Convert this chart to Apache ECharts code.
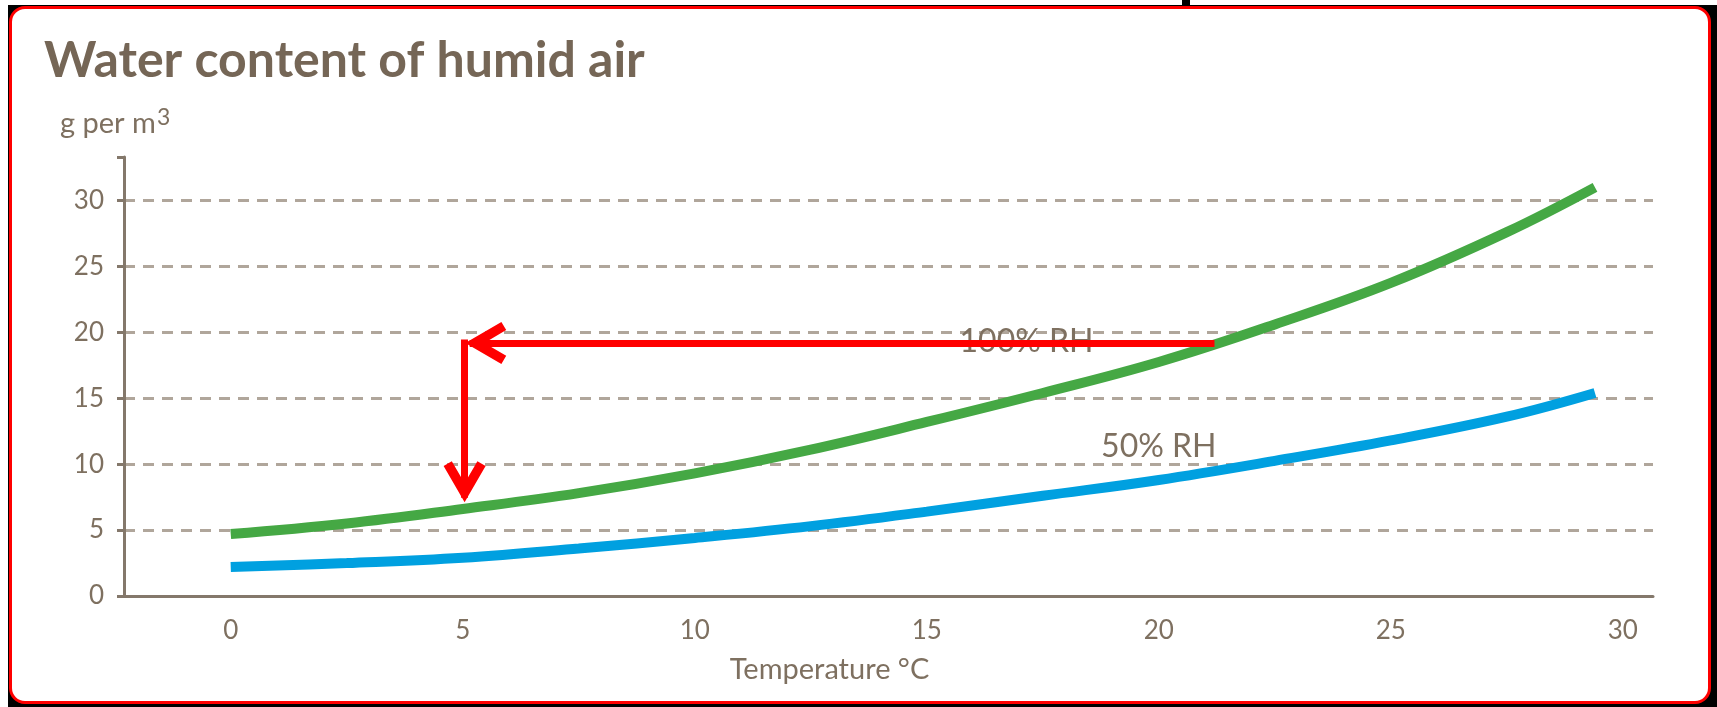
<!DOCTYPE html>
<html>
<head>
<meta charset="utf-8">
<script src="https://cdn.jsdelivr.net/npm/echarts@6/dist/echarts.min.js"></script>
<style>
  html, body { margin: 0; padding: 0; width: 1717px; height: 707px; background: #ffffff; overflow: hidden; }
  #back { position: absolute; left: 8px; top: 5px; right: 0; bottom: 0; background: #000; }
  #frame { position: absolute; left: 9px; top: 6px; width: 1696px; height: 692px; background: #fff;
           border: 3px solid #ff0000; border-radius: 16px; }
  #mark { position: absolute; left: 1182px; top: 0; width: 8px; height: 6px; background: #000; }
  #chart { position: absolute; left: 0; top: 0; width: 1717px; height: 707px; }
</style>
</head>
<body>
<div id="back"></div>
<div id="frame"></div>
<div id="mark"></div>
<div id="chart"></div>
<script>
// ---- data ----
const titleText = 'Water content of humid air';
const yNameMain = 'g per m';
const yNameSup = '3';
const xName = 'Temperature °C';
const xTicks = [0, 5, 10, 15, 20, 25, 30];
const yTicks = [0, 5, 10, 15, 20, 25, 30];
const temps = [0, 2.5, 5, 7.5, 10, 12.5, 15, 17.5, 20, 22.5, 25, 27.5, 29.4];
const rh100 = [4.7, 5.5, 6.6, 7.8, 9.3, 11.1, 13.2, 15.4, 17.75, 20.6, 23.75, 27.6, 31.0];
const rh50  = [2.2, 2.5, 2.9, 3.6, 4.4, 5.3, 6.4, 7.6, 8.8, 10.25, 11.8, 13.6, 15.4];
const curveNames = ['100% RH', '50% RH'];
const curveLabelPos = [[17.15, 19.3], [20.0, 11.3]];
const arrowH = [[21.2, 19.2], [5.15, 19.2]];
const arrowV = [[5.04, 19.45], [5.04, 7.45]];

// ---- styling ----
const brown = '#84786b';
const textCol = '#7e7060';
const font = 'Lato';
const chevron = 'path://M21,-32 L21.01,-32 L21,-31.99 Z M21,0 L42,36 L33.8,40.8 L21,19 L8.2,40.8 L0,36 Z';

const chart = echarts.init(document.getElementById('chart'), null, { renderer: 'canvas' });
const isTick = (v, arr) => arr.some(t => Math.abs(t - v) < 1e-6);

chart.setOption({
  animation: false,
  backgroundColor: 'transparent',
  title: [
    { text: titleText, left: 44, top: 36, padding: 0,
      textStyle: { fontFamily: font, fontWeight: 'bold', fontSize: 50, color: '#756656' } },
    { text: '{a|' + yNameMain + '}{s|' + yNameSup + '}', left: 60, top: 106, padding: 0,
      textStyle: { fontFamily: font, fontWeight: 'normal', fontSize: 29, color: textCol,
        rich: {
          a: { fontFamily: font, fontSize: 29, color: textCol },
          s: { fontFamily: font, fontSize: 23, color: textCol, padding: [0, 0, 12, 1] }
        } } }
  ],
  grid: { left: 124, right: 64, top: 157, bottom: 111, containLabel: false },
  xAxis: {
    type: 'value', min: -2.3, max: 30.65, splitNumber: 6,
    name: xName, nameLocation: 'middle', nameGap: 59,
    nameTextStyle: { fontFamily: font, fontSize: 29, color: textCol, padding: [0, 118, 0, 0] },
    axisLine: { show: true, onZero: false, lineStyle: { color: brown, width: 3 } },
    axisTick: { show: false },
    splitLine: { show: false },
    axisLabel: {
      customValues: xTicks,
      margin: 22, fontFamily: font, fontSize: 26, color: textCol,
      formatter: v => isTick(v, xTicks) ? String(Math.round(v)) : ''
    }
  },
  yAxis: {
    type: 'value', min: 0, max: 33.3, interval: 5,
    axisLine: { show: true, onZero: false, lineStyle: { color: brown, width: 3 } },
    axisTick: { show: true, length: 7, inside: false, lineStyle: { color: brown, width: 3 } },
    splitLine: { show: true, showMinLine: false, showMaxLine: false,
      lineStyle: { color: '#b0a69b', width: 3, type: [11, 8] } },
    axisLabel: {
      margin: 20, fontFamily: font, fontSize: 26, color: textCol,
      formatter: v => isTick(v, yTicks) ? String(Math.round(v)) : ''
    }
  },
  series: [
    {
      name: curveNames[0], type: 'line', smooth: 0.4, symbol: 'none', z: 3,
      data: temps.map((t, i) => [t, rh100[i]]),
      lineStyle: { color: '#45a844', width: 10, cap: 'butt' },
      markPoint: {
        symbol: 'circle', symbolSize: 1, silent: true,
        itemStyle: { color: 'rgba(0,0,0,0)' },
        label: { show: true, position: 'inside', fontFamily: font, fontSize: 32, color: textCol },
        data: [{ coord: curveLabelPos[0], value: curveNames[0], label: { formatter: curveNames[0] } }]
      }
    },
    {
      name: curveNames[1], type: 'line', smooth: 0.4, symbol: 'none', z: 3,
      data: temps.map((t, i) => [t, rh50[i]]),
      lineStyle: { color: '#00a0e0', width: 10, cap: 'butt' },
      markPoint: {
        symbol: 'circle', symbolSize: 1, silent: true,
        itemStyle: { color: 'rgba(0,0,0,0)' },
        label: { show: true, position: 'inside', fontFamily: font, fontSize: 32, color: textCol },
        data: [{ coord: curveLabelPos[1], value: curveNames[1], label: { formatter: curveNames[1] } }]
      }
    },
    {
      name: 'arrows', type: 'line', data: [], z: 10, symbol: 'none',
      markLine: {
        silent: true, z: 10,
        symbol: ['none', chevron], symbolSize: [42, 73],
        label: { show: false },
        lineStyle: { color: '#ff0000', width: 7, type: 'solid', opacity: 1 },
        itemStyle: { color: '#ff0000' },
        data: [
          [{ coord: arrowH[0] }, { coord: arrowH[1] }],
          [{ coord: arrowV[0] }, { coord: arrowV[1] }]
        ]
      }
    }
  ]
});
</script>
</body>
</html>
